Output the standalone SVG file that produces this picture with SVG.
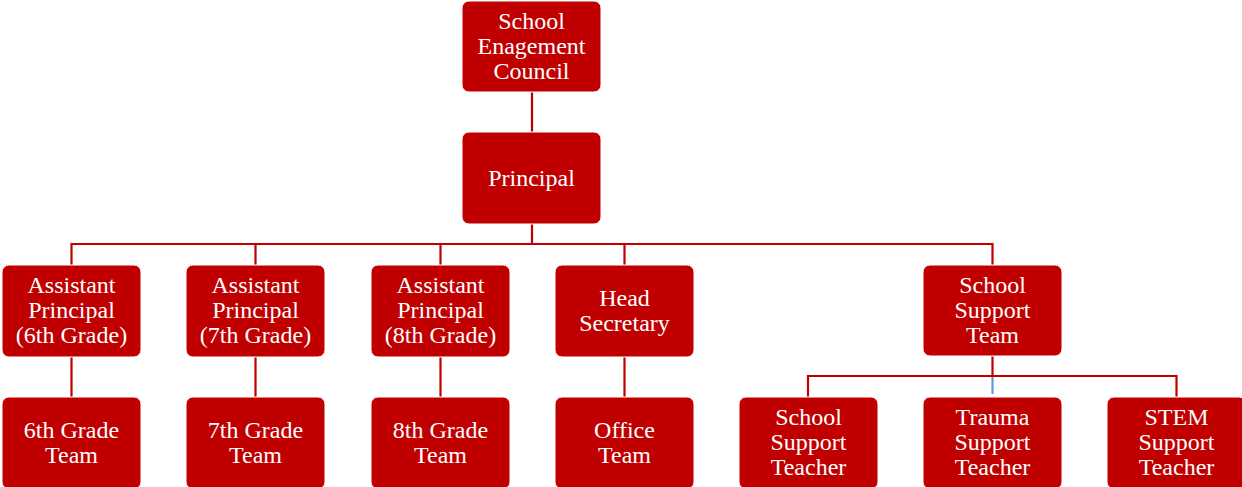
<svg xmlns="http://www.w3.org/2000/svg" width="1242" height="487" viewBox="0 0 1242 487">
  <style>
    .box { fill: #C00000; stroke: #ffffff; stroke-width: 1; }
    .lbl { font-family: "Liberation Serif", "Times New Roman", serif; font-size: 24px; fill: #ffffff; text-anchor: middle; }
    .link { stroke: #C00000; stroke-width: 2.2; fill: none; }
    .link-alt { stroke: #5B9BD5; stroke-width: 2.2; fill: none; }
  </style>
  <rect width="1242" height="487" fill="#ffffff"/>

  <!-- connectors -->
  <g id="connectors">
    <path class="link" d="M532 92 V132"/>
    <path class="link" d="M532 224 V244 M71.5 244 H992.5 M71.5 243 V265 M255.5 243 V265 M440.5 243 V265 M624.5 243 V265 M992.5 243 V265"/>
    <path class="link" d="M71.5 357 V397 M255.5 357 V397 M440.5 357 V397 M624.5 357 V397"/>
    <path class="link" d="M992.5 356 V376 M808 376 H1176.5 M808 375 V397 M1176.5 375 V397"/>
    <path class="link-alt" d="M992.5 377 V394"/>
  </g>

  <!-- top level -->
  <g id="council">
    <rect class="box" x="462" y="1" width="139" height="91" rx="7"/>
    <text class="lbl" x="531.5" y="29">School</text>
    <text class="lbl" x="531.5" y="54">Enagement</text>
    <text class="lbl" x="531.5" y="79">Council</text>
  </g>
  <g id="principal">
    <rect class="box" x="462" y="132" width="139" height="92" rx="7"/>
    <text class="lbl" x="531.5" y="186">Principal</text>
  </g>

  <!-- second level -->
  <g id="ap6">
    <rect class="box" x="2" y="265" width="139" height="92" rx="7"/>
    <text class="lbl" x="71.5" y="293">Assistant</text>
    <text class="lbl" x="71.5" y="318">Principal</text>
    <text class="lbl" x="71.5" y="343">(6th Grade)</text>
  </g>
  <g id="ap7">
    <rect class="box" x="186" y="265" width="139" height="92" rx="7"/>
    <text class="lbl" x="255.5" y="293">Assistant</text>
    <text class="lbl" x="255.5" y="318">Principal</text>
    <text class="lbl" x="255.5" y="343">(7th Grade)</text>
  </g>
  <g id="ap8">
    <rect class="box" x="371" y="265" width="139" height="92" rx="7"/>
    <text class="lbl" x="440.5" y="293">Assistant</text>
    <text class="lbl" x="440.5" y="318">Principal</text>
    <text class="lbl" x="440.5" y="343">(8th Grade)</text>
  </g>
  <g id="secretary">
    <rect class="box" x="555" y="265" width="139" height="92" rx="7"/>
    <text class="lbl" x="624.5" y="306">Head</text>
    <text class="lbl" x="624.5" y="331">Secretary</text>
  </g>
  <g id="support-team">
    <rect class="box" x="923" y="265" width="139" height="91" rx="7"/>
    <text class="lbl" x="992.5" y="293">School</text>
    <text class="lbl" x="992.5" y="318">Support</text>
    <text class="lbl" x="992.5" y="343">Team</text>
  </g>

  <!-- third level -->
  <g id="team6">
    <rect class="box" x="2" y="397" width="139" height="92" rx="7"/>
    <text class="lbl" x="71.5" y="438">6th Grade</text>
    <text class="lbl" x="71.5" y="463">Team</text>
  </g>
  <g id="team7">
    <rect class="box" x="186" y="397" width="139" height="92" rx="7"/>
    <text class="lbl" x="255.5" y="438">7th Grade</text>
    <text class="lbl" x="255.5" y="463">Team</text>
  </g>
  <g id="team8">
    <rect class="box" x="371" y="397" width="139" height="92" rx="7"/>
    <text class="lbl" x="440.5" y="438">8th Grade</text>
    <text class="lbl" x="440.5" y="463">Team</text>
  </g>
  <g id="office">
    <rect class="box" x="555" y="397" width="139" height="92" rx="7"/>
    <text class="lbl" x="624.5" y="438">Office</text>
    <text class="lbl" x="624.5" y="463">Team</text>
  </g>
  <g id="school-support-teacher">
    <rect class="box" x="739" y="397" width="139" height="92" rx="7"/>
    <text class="lbl" x="808.5" y="425">School</text>
    <text class="lbl" x="808.5" y="450">Support</text>
    <text class="lbl" x="808.5" y="475">Teacher</text>
  </g>
  <g id="trauma-support-teacher">
    <rect class="box" x="923" y="397" width="139" height="92" rx="7"/>
    <text class="lbl" x="992.5" y="425">Trauma</text>
    <text class="lbl" x="992.5" y="450">Support</text>
    <text class="lbl" x="992.5" y="475">Teacher</text>
  </g>
  <g id="stem-support-teacher">
    <rect class="box" x="1107" y="397" width="139" height="92" rx="7"/>
    <text class="lbl" x="1176.5" y="425">STEM</text>
    <text class="lbl" x="1176.5" y="450">Support</text>
    <text class="lbl" x="1176.5" y="475">Teacher</text>
  </g>
</svg>
